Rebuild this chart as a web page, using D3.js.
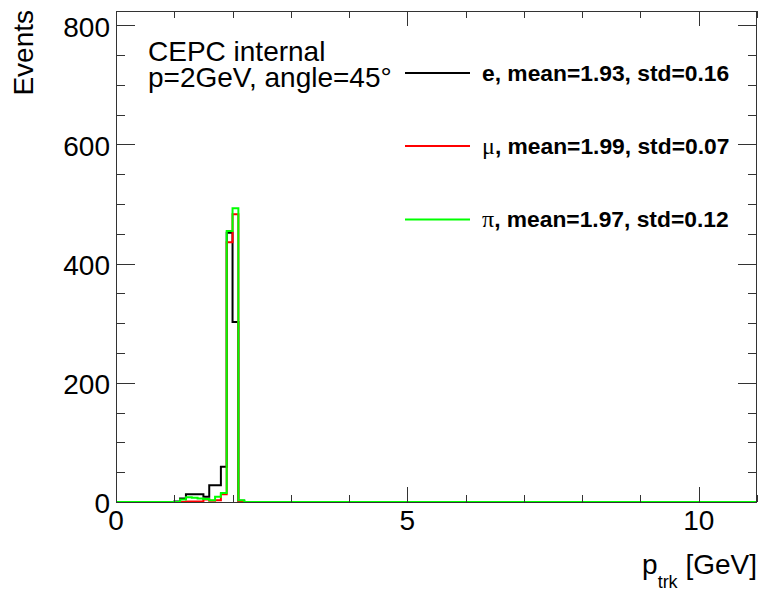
<!DOCTYPE html>
<html>
<head>
<meta charset="utf-8">
<script src="https://cdn.jsdelivr.net/npm/d3@7"></script>
<style>
  body { margin: 0; background: #fff; }
  text { font-family: "Liberation Sans", Arial, Helvetica, sans-serif; }
</style>
</head>
<body>
<div id="chart"></div>
<script>
const width = 763, height = 592;
const padL = 116, padR = 757, padT = 11, padB = 502;

// histogram bins (lower edges, GeV), bin width 0.1; all other bins are empty
const binLo = [1.0, 1.1, 1.2, 1.3, 1.4, 1.5, 1.6, 1.7, 1.8, 1.9, 2.0, 2.1];
const electron = [1, 6, 13, 13, 13, 9, 28, 28, 59, 452, 302, 2];
const muon     = [0, 0, 1, 1, 1, 4, 2, 3, 13, 436, 483, 1];
const pion     = [0, 4, 8, 7, 6, 5, 3, 9, 15, 455, 493, 3];
const binWidth = 0.1;

const seriesNames = ['electron', 'muon', 'pion'];
const seriesColors = ['#000000', '#ff0000', '#00ff00'];
const legendSymbols = ['e', 'μ', 'π'];
const legendTexts = [', mean=1.93, std=0.16', ', mean=1.99, std=0.07', ', mean=1.97, std=0.12'];

const xMajor = [0, 5, 10];
const xMinor = [1, 2, 3, 4, 6, 7, 8, 9, 11];
const yMajor = [0, 200, 400, 600, 800];
const yMinor = [50, 100, 150, 250, 300, 350, 450, 500, 550, 650, 700, 750];

const x = d3.scaleLinear().domain([0, 11]).range([padL, padR]);
const y = d3.scaleLinear().domain([0, 824]).range([padB, padT]);

const svg = d3.select('#chart')
  .append('svg')
  .attr('width', width)
  .attr('height', height);

// histograms as step outlines
const line = d3.line()
  .x(d => x(d[0]))
  .y(d => y(d[1]))
  .curve(d3.curveStepAfter);

function stepPoints(counts) {
  let pts = [[0, 0]];
  binLo.forEach((lo, i) => pts.push([lo, counts[i]]));
  pts.push([binLo[binLo.length - 1] + binWidth, 0]);
  pts.push([11, 0]);
  return pts;
}

[electron, muon, pion].forEach((counts, i) => {
  svg.append('path')
    .attr('d', line(stepPoints(counts)))
    .attr('fill', 'none')
    .attr('stroke', seriesColors[i])
    .attr('stroke-width', 2);
});

// frame
svg.append('rect')
  .attr('x', padL + 0.5)
  .attr('y', padT + 0.5)
  .attr('width', padR - padL - 1)
  .attr('height', padB - padT)
  .attr('fill', 'none')
  .attr('stroke', '#333')
  .attr('stroke-width', 1);

// ticks on all four sides
const gTicks = svg.append('g').attr('stroke', '#333').attr('stroke-width', 1);
function xTicks(vals, len) {
  vals.forEach(v => {
    let px = Math.round(x(v)) + 0.5;
    gTicks.append('line').attr('x1', px).attr('x2', px).attr('y1', padB).attr('y2', padB - len);
    gTicks.append('line').attr('x1', px).attr('x2', px).attr('y1', padT).attr('y2', padT + len);
  });
}
function yTicks(vals, len) {
  vals.forEach(v => {
    let py = Math.round(y(v)) + 0.5;
    gTicks.append('line').attr('x1', padL).attr('x2', padL + len).attr('y1', py).attr('y2', py);
    gTicks.append('line').attr('x1', padR).attr('x2', padR - len).attr('y1', py).attr('y2', py);
  });
}
xTicks(xMajor, 15);
xTicks(xMinor, 7);
yTicks(yMajor, 19);
yTicks(yMinor, 9);

// tick labels
svg.selectAll('text.xlab')
  .data(xMajor)
  .enter()
  .append('text')
  .classed('xlab', true)
  .attr('x', d => x(d))
  .attr('y', 530)
  .attr('text-anchor', 'middle')
  .style('font-size', '28px')
  .text(d => d);

svg.selectAll('text.ylab')
  .data(yMajor)
  .enter()
  .append('text')
  .classed('ylab', true)
  .attr('x', 110)
  .attr('y', d => y(d))
  .attr('dy', '0.4em')
  .attr('text-anchor', 'end')
  .style('font-size', '28px')
  .text(d => d);

// axis titles
svg.append('text')
  .attr('transform', 'translate(33,10) rotate(-90)')
  .attr('text-anchor', 'end')
  .style('font-size', '28px')
  .text('Events');

const xTitle = svg.append('text')
  .attr('x', 757)
  .attr('y', 574)
  .attr('text-anchor', 'end')
  .style('font-size', '28px');
xTitle.append('tspan').text('p');
xTitle.append('tspan').attr('dy', 14).style('font-size', '18px').text('trk');
xTitle.append('tspan').attr('dy', -14).text('\u00a0[GeV]');

// labels
svg.append('text')
  .attr('x', 148)
  .attr('y', 61)
  .style('font-size', '28px')
  .text('CEPC internal');
svg.append('text')
  .attr('x', 148)
  .attr('y', 87)
  .style('font-size', '28px')
  .text('p=2GeV, angle=45°');

// legend
const legendY = [73, 146, 219.5];
seriesNames.forEach((name, i) => {
  svg.append('line')
    .attr('x1', 405).attr('x2', 470)
    .attr('y1', legendY[i]).attr('y2', legendY[i])
    .attr('stroke', seriesColors[i])
    .attr('stroke-width', 2);
  const t = svg.append('text')
    .attr('x', 482)
    .attr('y', legendY[i] + 7.5)
    .style('font-size', '22.8px');
  if (i === 0) {
    t.append('tspan').style('font-weight', 'bold').text(legendSymbols[i]);
  } else {
    t.append('tspan')
      .style('font-family', '"Liberation Serif", "Times New Roman", serif')
      .style('font-size', '24px')
      .text(legendSymbols[i]);
  }
  t.append('tspan').style('font-weight', 'bold').text(legendTexts[i]);
});
</script>
</body>
</html>
